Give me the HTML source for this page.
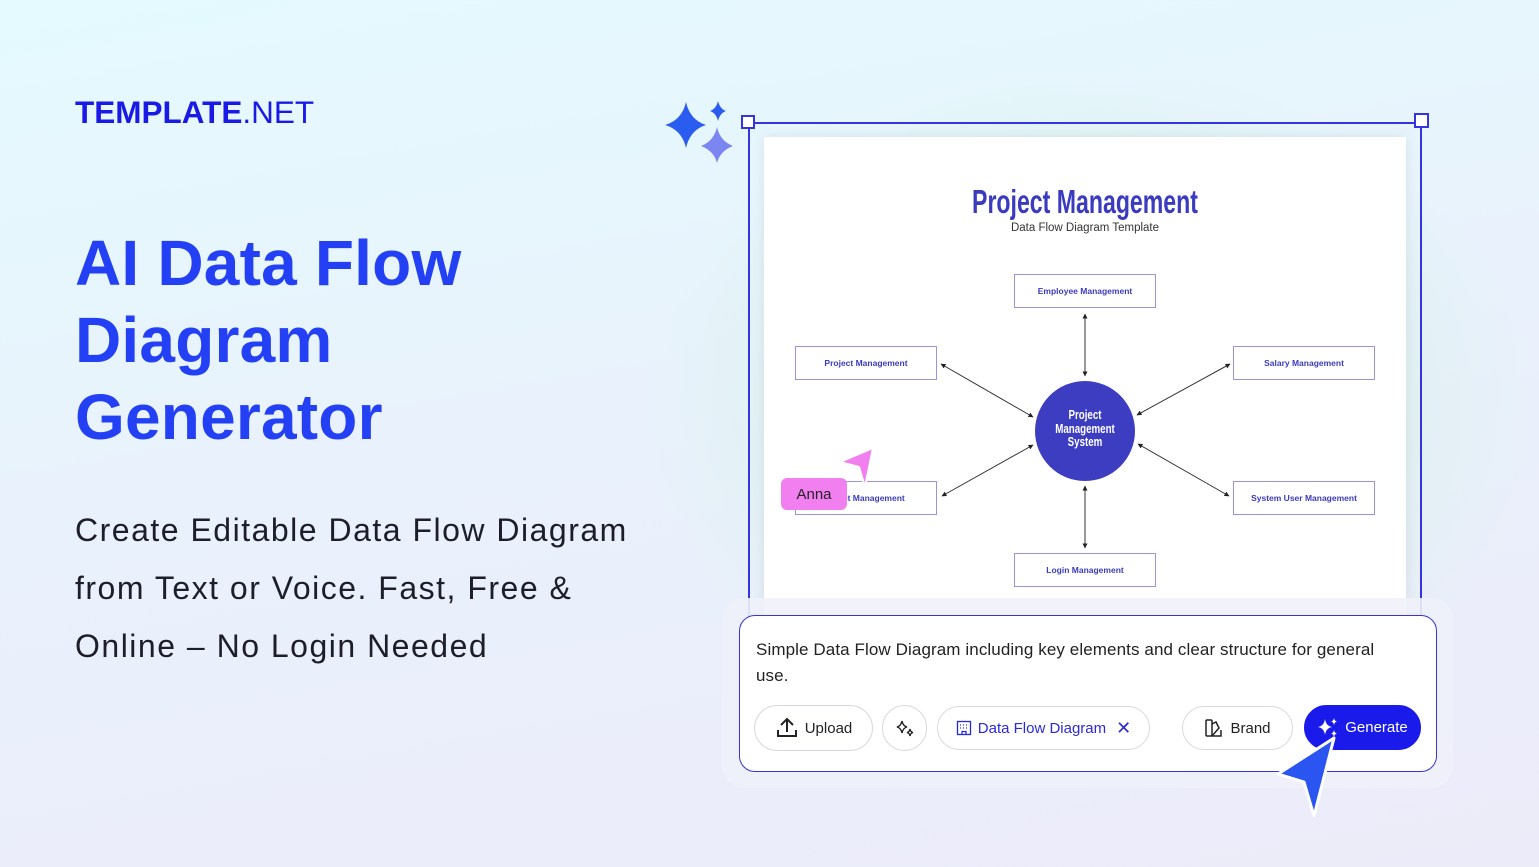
<!DOCTYPE html>
<html><head><meta charset="utf-8"><style>
*{margin:0;padding:0;box-sizing:border-box}
body{width:1539px;height:867px;overflow:hidden;position:relative;font-family:"Liberation Sans",sans-serif;
background:linear-gradient(170deg,#e4fafe 0%,#e9f2fc 45%,#ecebf9 100%);}
.abs{position:absolute}
.h1{left:75px;color:#2340f5;font-weight:bold;font-size:64px;line-height:77px;top:225px;letter-spacing:0.2px}
.sub{left:75px;top:501px;font-size:32px;line-height:58px;color:#1e1e2a;letter-spacing:1.5px}
.box{position:absolute;width:142px;height:34px;border:1.5px solid #9b93dd;background:#fff;color:#3b3bc0;font-size:8.5px;font-weight:bold;display:flex;align-items:center;justify-content:center}
.btn{position:absolute;border:1.5px solid #d8d8de;border-radius:24px;background:#fff;display:flex;align-items:center;justify-content:center;font-size:15px;color:#222;gap:6px}
.cond{font-family:'Liberation Sans Narrow','Liberation Sans',sans-serif;font-weight:bold}
</style></head><body>
<div class="abs" style="left:640px;top:60px;width:900px;height:700px;background:radial-gradient(ellipse at 50% 50%,rgba(255,240,200,0.5),rgba(200,240,220,0.25) 50%,rgba(255,255,255,0) 70%)"></div>
<div class="abs" style="left:75px;top:94px;font-size:31.5px;color:#1a1ae6"><b style="font-weight:900">TEMPLATE</b>.NET</div>
<div class="abs h1">AI Data Flow<br>Diagram<br>Generator</div>
<div class="abs sub">Create Editable Data Flow Diagram<br>from Text or Voice. Fast, Free &amp;<br>Online – No Login Needed</div>

<svg class="abs" style="left:660px;top:95px" width="80" height="75"><path d="M26 7 Q30 25 46 30 Q30 35 26 53 Q22 35 5 30 Q22 25 26 7Z" fill="#2b5cf0"/><path d="M58 6 Q60 14 66 16 Q60 18 58 26 Q56 18 50 16 Q56 14 58 6Z" fill="#2b5cf0"/><path d="M57 32 Q60 46 73 51 Q60 56 57 68 Q54 56 41 51 Q54 46 57 32Z" fill="#7b86f0"/></svg>

<div class="abs" style="left:748px;top:122px;width:674px;height:500px;border:2px solid #3535e0;border-bottom:none"></div>
<div class="abs" style="left:741px;top:115px;width:14px;height:14px;border:2px solid #3535e0;background:#fff"></div>
<div class="abs" style="left:1414px;top:113px;width:15px;height:15px;border:2px solid #3535e0;background:#fff"></div>
<div class="abs" style="left:764px;top:137px;width:642px;height:480px;background:#fff;box-shadow:0 0 12px rgba(0,0,0,0.08)"></div>

<div class="abs cond" style="left:885px;top:183px;width:400px;text-align:center;font-size:33px;color:#3b3bc0;transform:scaleX(0.7)">Project Management</div>
<div class="abs" style="left:935px;top:222px;width:300px;text-align:center;font-size:11.5px;color:#333">Data Flow Diagram Template</div>

<svg class="abs" style="left:0;top:0" width="1539" height="867">
<defs><marker id="a" viewBox="0 0 10 10" refX="9" refY="5" markerWidth="5" markerHeight="5" orient="auto-start-reverse"><path d="M0 0L10 5L0 10Z" fill="#222"/></marker></defs>
<g stroke="#333" stroke-width="1" marker-start="url(#a)" marker-end="url(#a)">
<line x1="1085" y1="314" x2="1085" y2="376"/>
<line x1="1085" y1="486" x2="1085" y2="548"/>
<line x1="941" y1="364" x2="1033" y2="417"/>
<line x1="1230" y1="364" x2="1137" y2="415"/>
<line x1="942" y1="496" x2="1033" y2="445"/>
<line x1="1229" y1="496" x2="1138" y2="444"/>
</g>
<circle cx="1085" cy="431" r="50" fill="#3d3dc2"/>
</svg>
<div class="abs cond" style="left:1025px;top:408px;width:120px;text-align:center;color:#fff;font-size:13px;line-height:13.5px;transform:scaleX(0.75)">Project<br>Management<br>System</div>

<div class="box" style="left:1014px;top:274px">Employee Management</div>
<div class="box" style="left:795px;top:346px">Project Management</div>
<div class="box" style="left:1233px;top:346px">Salary Management</div>
<div class="box" style="left:795px;top:481px">Asset Management</div>
<div class="box" style="left:1233px;top:481px">System User Management</div>
<div class="box" style="left:1014px;top:553px">Login Management</div>

<svg class="abs" style="left:835px;top:445px" width="45" height="50"><path d="M38 3 L30 42 L24 22 L5 17Z" fill="#f27ff0" stroke="#fff" stroke-width="2"/></svg>
<div class="abs" style="left:781px;top:478px;width:66px;height:32px;background:#f27ff0;border-radius:6px;font-size:15px;color:#222;display:flex;align-items:center;justify-content:center">Anna</div>

<div class="abs" style="left:722px;top:598px;width:731px;height:190px;background:rgba(240,241,250,0.9);border-radius:22px"></div>
<div class="abs" style="left:739px;top:615px;width:698px;height:157px;background:#fff;border:1.5px solid #3535d8;border-radius:16px"></div>
<div class="abs" style="left:756px;top:637px;width:655px;font-size:17px;line-height:26px;color:#222;letter-spacing:0.1px">Simple Data Flow Diagram including key elements and clear structure for general use.</div>

<div class="btn" style="left:754px;top:705px;width:119px;height:46px"><svg width="24" height="24" viewBox="0 0 24 24" fill="none" stroke="#222" stroke-width="2"><path d="M12 16V3M6 9l6-6 6 6M3 14v6h18v-6"/></svg>Upload</div>
<div class="btn" style="left:882px;top:705px;width:45px;height:46px"><svg width="20" height="20" viewBox="0 0 20 20" fill="none" stroke="#222" stroke-width="1.4"><path d="M7 3Q8 8 12 9Q8 10 7 15Q6 10 2 9Q6 8 7 3Z"/><path d="M15 11Q15.5 14 18 14.5Q15.5 15 15 18Q14.5 15 12 14.5Q14.5 14 15 11Z"/></svg></div>
<div class="btn" style="left:937px;top:706px;width:213px;height:44px;color:#2a2ad8"><svg width="16" height="16" viewBox="0 0 16 16" fill="none" stroke="#2a2ad8" stroke-width="1.3"><rect x="1.5" y="1.5" width="13" height="13"/><path d="M4 5h1M7 5h1M10 5h1M4 8h1M7 8h1M10 8h1M6 14.5v-3h4v3"/></svg>Data Flow Diagram <span style="font-size:18px;margin-left:4px">✕</span></div>
<div class="btn" style="left:1182px;top:706px;width:111px;height:44px"><svg width="20" height="20" viewBox="0 0 20 20" fill="none" stroke="#222" stroke-width="1.5"><rect x="2" y="2" width="6" height="16" rx="1"/><path d="M8 6l4-2 3 6-7 8M8 18h9v-6"/></svg>Brand</div>
<div class="btn" style="left:1304px;top:705px;width:117px;height:45px;background:#1a1aeb;border-color:#1a1aeb;color:#fff"><svg width="22" height="22" viewBox="0 0 22 22" fill="#fff"><path d="M8 2Q9 9 15 10Q9 11 8 18Q7 11 1 10Q7 9 8 2Z"/><path d="M17 1Q17.5 4 20 4.5Q17.5 5 17 8Q16.5 5 14 4.5Q16.5 4 17 1Z"/><path d="M17 13Q17.5 16 20 16.5Q17.5 17 17 20Q16.5 17 14 16.5Q16.5 16 17 13Z"/></svg>Generate</div>

<svg class="abs" style="left:1270px;top:730px" width="80" height="95"><path d="M64 8 L44 86 L34 52 L8 44Z" fill="#2a55f0" stroke="#fff" stroke-width="3" stroke-linejoin="round"/></svg>
</body></html>
